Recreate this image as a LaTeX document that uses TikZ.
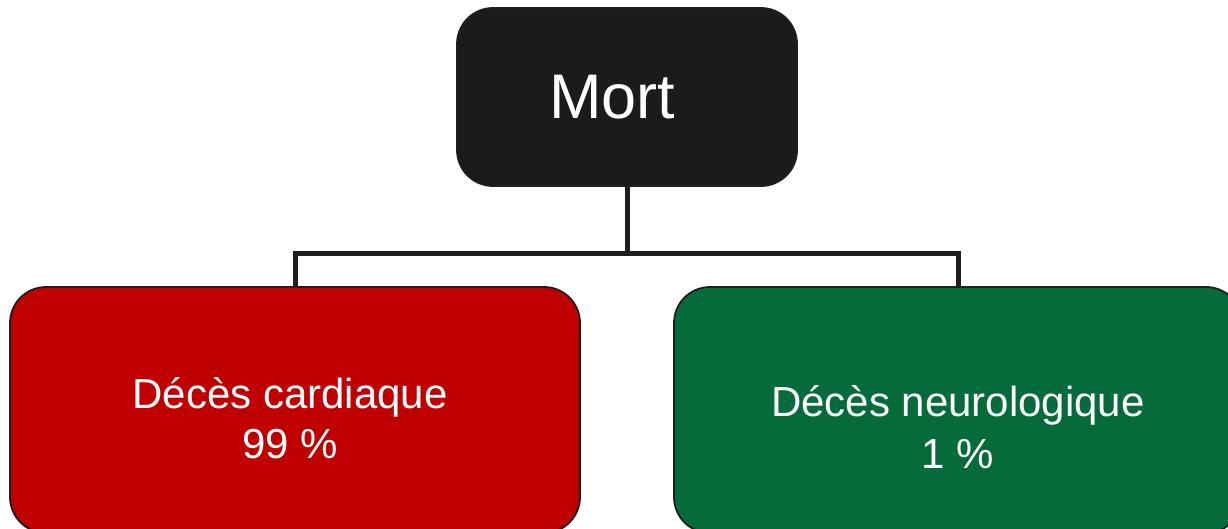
\documentclass[tikz,border=0pt]{standalone}
\usepackage{fontspec}
\setmainfont{Liberation Sans}
\definecolor{boxblack}{HTML}{1C1B19}
\definecolor{boxred}{HTML}{C00000}
\definecolor{boxgreen}{HTML}{066B3A}
\definecolor{edge}{HTML}{1E1E1E}
\begin{document}
\begin{tikzpicture}[x=1pt,y=-1pt,
  box/.style={draw=edge, line width=1.8pt, rounded corners=36pt, inner sep=0pt},
  boxtext/.style={text=white, align=center, inner sep=0pt},
  conn/.style={draw=edge, line width=5pt, line join=miter}]
\useasboundingbox (0,0) rectangle (1228,529);
\node[box, fill=boxblack, minimum width=340pt, minimum height=178pt] (mort) at (627,97) {};
\node[boxtext, font=\fontsize{63}{70}\selectfont] (morttext) at (612,97) {Mort};
\node[box, fill=boxred, minimum width=570pt, minimum height=246pt] (card) at (295,410) {};
\node[boxtext, font=\fontsize{42}{50}\selectfont] (cardtext) at (290,418) {Décès cardiaque\\99 \%};
\node[box, fill=boxgreen, minimum width=568pt, minimum height=246pt] (neuro) at (958,410) {};
\node[boxtext, font=\fontsize{42}{52}\selectfont] (neurotext) at (958,427) {Décès neurologique\\1 \%};
\coordinate (bus) at (627,254);
\draw[conn] (mort.south) -- (bus);
\draw[conn] (card.north) |- (bus) -| (neuro.north);
\end{tikzpicture}
\end{document}
